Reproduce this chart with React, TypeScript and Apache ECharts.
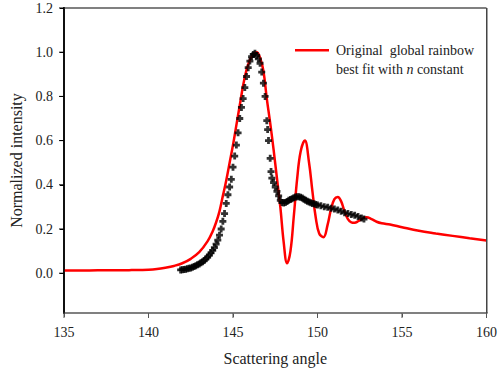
import React, { useEffect, useRef } from 'react';
import * as echarts from 'echarts';

// Tick values
const xTickValues = [135, 140, 145, 150, 155, 160];
const yTickValues = [0, 0.2, 0.4, 0.6, 0.8, 1.0, 1.2];

// Red curve: "Original global rainbow best fit with n constant"
const fitAngles = [
  135.0, 136.0, 137.0, 138.0, 139.0, 140.0, 140.5, 141.0, 141.5, 142.0,
  142.5, 143.0, 143.5, 143.8, 144.0, 144.2, 144.4, 144.6, 144.8, 145.0,
  145.2, 145.4, 145.6, 145.8, 146.0, 146.2, 146.4, 146.6, 146.8, 147.0,
  147.2, 147.4, 147.6, 147.8, 148.0, 148.2, 148.4, 148.6, 148.8, 149.0,
  149.25, 149.5, 149.7, 149.9, 150.1, 150.35, 150.6, 150.8, 151.0, 151.2,
  151.4, 151.6, 151.8, 152.0, 152.2, 152.4, 152.6, 152.9, 153.2, 153.5,
  153.8, 154.3, 155.0, 156.0, 157.0, 158.0, 159.0, 160.0,
];
const fitIntensity = [
  0.012, 0.012, 0.013, 0.013, 0.014, 0.016, 0.019, 0.025, 0.033, 0.045,
  0.065, 0.095, 0.145, 0.19, 0.23, 0.28, 0.35, 0.42, 0.5, 0.58,
  0.67, 0.76, 0.85, 0.92, 0.965, 0.99, 1.0, 0.975, 0.915, 0.79,
  0.68, 0.56, 0.43, 0.3, 0.14, 0.045, 0.1, 0.26, 0.43, 0.55,
  0.6, 0.5, 0.37, 0.25, 0.18, 0.163, 0.22, 0.29, 0.335, 0.345,
  0.325, 0.28, 0.245, 0.23, 0.228, 0.235, 0.245, 0.253, 0.245, 0.233,
  0.226, 0.22, 0.208, 0.192, 0.18, 0.169, 0.158, 0.148,
];

// Black markers: measured intensity
const obsAngles = [
  141.9, 142.0, 142.1, 142.2, 142.3, 142.4, 142.5, 142.6, 142.7, 142.8,
  142.9, 143.0, 143.1, 143.2, 143.3, 143.4, 143.5, 143.6, 143.7, 143.8,
  143.9, 144.0, 144.1, 144.2, 144.3, 144.4, 144.5, 144.6, 144.7, 144.8,
  144.9, 145.0, 145.1, 145.2, 145.3, 145.4, 145.5, 145.6, 145.7, 145.8,
  145.9, 146.0, 146.1, 146.2, 146.3, 146.4, 146.5, 146.6, 146.7, 146.8,
  146.9, 147.0, 147.05, 147.1, 147.2, 147.25, 147.3, 147.4, 147.5, 147.6,
  147.7, 147.8, 147.9, 148.0, 148.1, 148.2, 148.3, 148.4, 148.5, 148.6,
  148.7, 148.8, 148.9, 149.0, 149.1, 149.2, 149.3, 149.4, 149.5, 149.6,
  149.7, 149.8, 149.9, 150.0, 150.2, 150.4, 150.6, 150.8, 151.0, 151.2,
  151.4, 151.6, 151.8, 152.0, 152.2, 152.4, 152.6, 152.75,
];
const obsIntensity = [
  0.015, 0.016, 0.017, 0.018, 0.02, 0.022, 0.024, 0.027, 0.03, 0.034,
  0.038, 0.042, 0.047, 0.052, 0.058, 0.065, 0.073, 0.082, 0.092, 0.103,
  0.116, 0.132, 0.15, 0.172, 0.2, 0.235, 0.27, 0.316, 0.355, 0.39,
  0.425, 0.48, 0.53, 0.58, 0.635, 0.7, 0.75, 0.79, 0.84, 0.89,
  0.93, 0.96, 0.98, 0.99, 0.995, 0.985, 0.97, 0.95, 0.91, 0.86,
  0.8, 0.69, 0.65, 0.6, 0.52, 0.46, 0.43, 0.41, 0.39, 0.37,
  0.35, 0.33, 0.32, 0.318, 0.32, 0.325, 0.33, 0.333, 0.337, 0.342,
  0.345, 0.346, 0.346, 0.344, 0.34, 0.335, 0.33, 0.326, 0.322, 0.319,
  0.316, 0.314, 0.311, 0.309, 0.305, 0.301, 0.298, 0.294, 0.29, 0.286,
  0.28, 0.274, 0.27, 0.266, 0.262, 0.257, 0.25, 0.245,
];

const FONT = 'Liberation Serif';
const PLUS = 'path://M3,0H7V3H10V7H7V10H3V7H0V3H3Z';

function buildOption() {
  const fitData = fitAngles.map((a, i) => [a, fitIntensity[i]]);
  const obsData = obsAngles.map((a, i) => [a, obsIntensity[i]]);
  return {
    animation: false,
    backgroundColor: '#fff',
    textStyle: { fontFamily: FONT },
    grid: { left: 64, top: 8, right: 11, bottom: 65 },
    xAxis: {
      type: 'value', min: 135, max: 160, interval: 5,
      name: 'Scattering angle', nameLocation: 'middle', nameGap: 37,
      nameTextStyle: { fontFamily: FONT, fontSize: 16, color: '#222' },
      axisLine: { show: true, onZero: false, lineStyle: { color: '#808080', width: 2 } },
      axisTick: { show: true, length: 4, lineStyle: { color: '#555' } },
      axisLabel: { fontFamily: FONT, fontSize: 14, color: '#222', margin: 12 },
      splitLine: { show: false },
    },
    yAxis: {
      type: 'value', min: -0.18, max: 1.2,
      name: 'Normalized intensity', nameLocation: 'middle', nameGap: 38,
      nameTextStyle: { fontFamily: FONT, fontSize: 16, color: '#222' },
      axisLine: { show: true, onZero: false, lineStyle: { color: '#000', width: 1.5 } },
      axisTick: { show: true, length: 4, customValues: yTickValues, lineStyle: { color: '#000' } },
      axisLabel: {
        customValues: yTickValues,
        formatter: (v: number) => v.toFixed(1),
        fontFamily: FONT, fontSize: 14, color: '#222', margin: 11,
      },
      splitLine: { show: false },
    },
    series: [
      {
        name: 'Original global rainbow best fit with n constant',
        type: 'line', data: fitData, smooth: 0.4, showSymbol: false,
        lineStyle: { color: '#ff0000', width: 2.5 },
        z: 2,
      },
      {
        name: 'Measured', type: 'scatter', data: obsData,
        symbol: PLUS, symbolSize: 7, itemStyle: { color: '#000' },
        z: 3,
      },
    ],
  };
}

export default function App() {
  const ref = useRef<HTMLDivElement>(null);
  useEffect(() => {
    const chart = echarts.init(ref.current!, null, { renderer: 'svg' });
    chart.setOption(buildOption() as any);

    // Frame and ticks placed through the chart's own coordinate conversion
    const tl = chart.convertToPixel({ gridIndex: 0 }, [135, 1.2]) as number[];
    const br = chart.convertToPixel({ gridIndex: 0 }, [160, -0.18]) as number[];
    const left = tl[0], top = tl[1], right = br[0], bottom = br[1];
    const frame: any[] = [
      { type: 'rect', shape: { x: left, y: top - 1, width: right - left, height: 2 }, style: { fill: '#808080' }, z: 10 },
      { type: 'rect', shape: { x: left, y: bottom - 1, width: right - left + 1, height: 2 }, style: { fill: '#808080' }, z: 10 },
      { type: 'rect', shape: { x: right - 0.5, y: top, width: 1.5, height: bottom - top }, style: { fill: '#444' }, z: 10 },
      { type: 'rect', shape: { x: left - 0.75, y: top - 1, width: 1.5, height: bottom - top + 2 }, style: { fill: '#000' }, z: 10 },
    ];
    xTickValues.forEach((v) => {
      const px = chart.convertToPixel({ xAxisIndex: 0 }, v) as number;
      frame.push({ type: 'rect', shape: { x: px - 0.5, y: bottom, width: 1, height: 5 }, style: { fill: '#555' }, z: 10 });
    });
    yTickValues.forEach((v) => {
      const py = chart.convertToPixel({ yAxisIndex: 0 }, v) as number;
      frame.push({ type: 'rect', shape: { x: left - 5, y: py - 0.5, width: 5, height: 1 }, style: { fill: '#000' }, z: 10 });
    });
    frame.push(
      { type: 'rect', shape: { x: 295, y: 49, width: 34, height: 2.5 }, style: { fill: '#ff0000' }, z: 10 },
      {
        type: 'text', x: 336, y: 41, z: 10,
        style: {
          text: 'Original  global rainbow\nbest fit with {i|n} constant',
          fontFamily: FONT, fontSize: 14, lineHeight: 19, fill: '#222',
          rich: { i: { fontStyle: 'italic', fontFamily: FONT, fontSize: 14, lineHeight: 19 } },
        },
      }
    );
    chart.setOption({ graphic: frame } as any);
    return () => chart.dispose();
  }, []);
  return <div ref={ref} style={{ position: 'fixed', left: 0, top: 0, width: 500, height: 378 }} />;
}
